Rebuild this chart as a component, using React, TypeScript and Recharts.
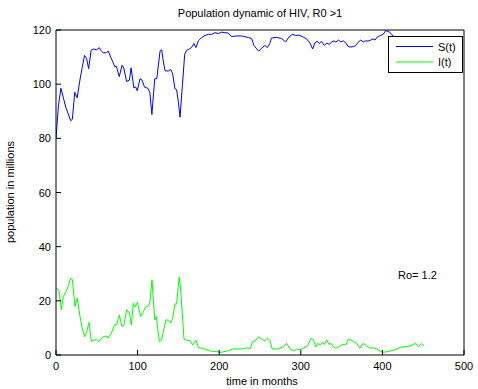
import React from 'react';
import { LineChart, Line, XAxis, YAxis } from 'recharts';

// S(t) samples, months -> millions
const sTimes = [
  0, 3, 6, 9, 12, 15, 18, 20, 23, 26, 29, 32, 35, 37.5, 40, 43, 46, 50, 53, 55,
  58, 62, 64, 67, 70, 72, 74, 77.5, 81, 83, 86.5, 90, 92, 95.5, 97.5, 99.5, 103, 105.5, 108.5, 112.5,
  115, 117.5, 121, 123.5, 127.5, 129.5, 131, 133.5, 137.5, 140.5, 143, 145.8, 147.8, 150, 152, 155, 157.7, 160, 163.4, 166,
  169, 171.5, 174.4, 178.5, 182.6, 186.7, 190.8, 194.8, 199, 203, 207, 211, 215, 221.5, 227.6, 231.7, 235.8, 239.8, 242.6, 246,
  248.4, 252, 256, 259, 262, 264, 270, 276.6, 281.5, 285.5, 289.6, 293.7, 297.8, 303, 307, 311.3, 314.5, 317.3, 320, 322.5,
  325.4, 328.8, 331.7, 335, 337.8, 340.7, 343, 346, 349, 352, 355.3, 358, 361.4, 364.6, 367, 370.3, 373.6, 376.4, 379.3, 382.5,
  385.8, 388.6, 391, 394, 398, 401, 404, 409, 413, 418, 424, 430, 435, 440, 445, 453
];
const sValues = [
  80, 92, 98.5, 95, 91.5, 89, 86.5, 87, 97, 95, 101, 106, 110.6, 109.5, 105.7, 112.5, 113, 112.7, 113.5, 112.5,
  111.5, 111.7, 112.2, 110, 108, 106.5, 106.6, 102.8, 107, 106, 101, 101.5, 106, 98.6, 99, 97.6, 102, 101.5, 98.9, 98.5,
  97, 88.8, 102, 102, 112.2, 112.7, 109.5, 105, 104.8, 105.5, 103.8, 98.3, 98, 93.3, 87.8, 100, 111, 112.5, 113, 113.5,
  115, 113.5, 116, 117.2, 118, 118.4, 118.4, 119, 118.7, 119.2, 119, 118.9, 117.6, 117.8, 117.8, 117.5, 117.2, 116.8, 114.3, 113,
  112.2, 113.3, 114.3, 113.5, 115, 117, 117.3, 116.8, 115.6, 117.4, 118.4, 118, 118.1, 117.4, 116.7, 115.2, 113, 115.2, 115.9, 115,
  115.8, 114.3, 115.2, 114.7, 115.6, 116, 115.5, 116.3, 115.6, 116, 115.2, 113.9, 113.7, 113.9, 114.2, 115.5, 116.3, 115.6, 116, 115.9,
  116.3, 116.7, 116.3, 117.5, 118, 118.4, 119.8, 119.2, 117.8, 116.8, 116.4, 116.8, 116.2, 116.6, 116.1, 116.4
];

// I(t) samples
const iTimes = [
  0, 3.7, 6.5, 9, 11.8, 14.7, 18, 20, 23.3, 26, 29.4, 32, 35, 37.5, 40.4, 43.3, 46.5, 49.7, 52.7, 55,
  58, 62, 63.7, 67.8, 72, 74.3, 77.6, 80.9, 83.3, 86.6, 89.9, 92.3, 94.8, 96.8, 99.7, 103.8, 107, 110, 113.3, 115.2,
  117.6, 121, 122.9, 126.6, 129.5, 131.5, 134.8, 137.6, 140.5, 143, 145.8, 147.8, 151, 152.6, 156.9, 160, 164.2, 167.5, 171.5, 174.4,
  178.5, 182.6, 187.9, 192.8, 196.9, 201, 205, 209, 213, 217.3, 223.4, 229.5, 233.6, 237.7, 241, 245, 248.4, 252, 256, 259,
  262, 265, 272.3, 278, 282.7, 286.8, 291, 295, 299, 303, 308.3, 312.5, 315.4, 318.3, 320.7, 323.6, 326.4, 328.8, 331.7, 334.6,
  337, 339.8, 342.7, 346, 351, 355.3, 358.2, 361.4, 365.5, 368.4, 372.5, 376.6, 380.7, 384.8, 388.9, 393, 397.1, 401.1, 405.2, 409.3,
  415.4, 419.5, 423.6, 429.7, 433.8, 437.9, 440.8, 444, 448, 451
];
const iValues = [
  24.7, 23.8, 16.7, 21.6, 23, 25.3, 28.4, 27.8, 17.9, 21, 14.2, 10, 6.8, 8.6, 12, 4.9, 5.5, 5.8, 4.9, 6,
  6.8, 7, 6.2, 8, 11.3, 11.1, 14.8, 10.5, 11.1, 16.7, 15.6, 11.1, 19.1, 17.7, 19.4, 14.2, 16, 17.9, 18.1, 19.7,
  27.8, 13, 14.2, 4.9, 5.5, 8.6, 13, 12.8, 11.8, 13.6, 18.9, 18.8, 28.8, 24.7, 5.8, 5.5, 5.3, 3.7, 5.5, 2.8,
  2.5, 2.2, 1.6, 1.2, 1.4, 0.9, 1.2, 1.4, 1.8, 2.3, 2.2, 2.3, 2.7, 2.3, 4.9, 5.5, 6.8, 5.8, 5.3, 6.2,
  5.5, 2.2, 2.2, 3, 4.3, 2.2, 1.5, 2.2, 1.9, 2.5, 3.4, 6.2, 5.6, 3, 4.3, 3.7, 4.7, 3.9, 5.6, 3.9,
  4.3, 3, 2.5, 3, 3.9, 3.7, 5.9, 5.6, 4.7, 4.3, 2.5, 4.3, 3.4, 2.5, 2.7, 2.2, 1.5, 1, 1.2, 1.5,
  1.9, 2.5, 3, 3, 3.4, 3.9, 4.3, 3, 4.2, 3.4
];

const xTicks = [0, 100, 200, 300, 400, 500];
const yTicks = [0, 20, 40, 60, 80, 100, 120];

const sData = sTimes.map((t, i) => ({ t, v: sValues[i] }));
const iData = iTimes.map((t, i) => ({ t, v: iValues[i] }));

const FONT = '"Liberation Sans", Arial, Helvetica, sans-serif';

// ticks point inward like matlab
const BottomTick = (props: any) => {
  const { x, y, payload } = props;
  return (
    <g>
      <line x1={x} y1={y} x2={x} y2={y - 5} stroke="#000" />
      <text x={x} y={y + 15} textAnchor="middle" fontSize={11} fontFamily={FONT} fill="#000">
        {payload.value}
      </text>
    </g>
  );
};
const TopTick = (props: any) => {
  const { x, y } = props;
  return <line x1={x} y1={y} x2={x} y2={y + 5} stroke="#000" />;
};
const LeftTick = (props: any) => {
  const { x, y, payload } = props;
  return (
    <g>
      <line x1={x} y1={y} x2={x + 5} y2={y} stroke="#000" />
      <text x={x - 5} y={y + 4} textAnchor="end" fontSize={11} fontFamily={FONT} fill="#000">
        {payload.value}
      </text>
    </g>
  );
};
const RightTick = (props: any) => {
  const { x, y } = props;
  return <line x1={x} y1={y} x2={x - 5} y2={y} stroke="#000" />;
};

const txt: React.CSSProperties = {
  position: 'absolute',
  fontFamily: FONT,
  fontSize: 11,
  lineHeight: '14px',
  color: '#000',
  whiteSpace: 'nowrap',
};

const App: React.FC = () => {
  return (
    <div style={{ position: 'absolute', left: 0, top: 0, width: 478, height: 389, background: '#fff' }}>
      <LineChart width={478} height={389} margin={{ top: 0, right: 0, bottom: 0, left: 0 }}>
        <XAxis
          dataKey="t"
          type="number"
          domain={[0, 500]}
          ticks={xTicks}
          height={34}
          tickSize={0}
          tickMargin={0}
          tickLine={false}
          tick={BottomTick}
          axisLine={{ stroke: '#000' }}
          allowDataOverflow
        />
        <XAxis
          xAxisId="top"
          orientation="top"
          dataKey="t"
          type="number"
          domain={[0, 500]}
          ticks={xTicks}
          height={30}
          tickSize={0}
          tickMargin={0}
          tickLine={false}
          tick={TopTick}
          axisLine={{ stroke: '#000' }}
        />
        <YAxis
          type="number"
          domain={[0, 120]}
          ticks={yTicks}
          width={56}
          tickSize={0}
          tickMargin={0}
          tickLine={false}
          tick={LeftTick}
          axisLine={{ stroke: '#000' }}
          allowDataOverflow
        />
        <YAxis
          yAxisId="right"
          orientation="right"
          type="number"
          domain={[0, 120]}
          ticks={yTicks}
          width={14}
          tickSize={0}
          tickMargin={0}
          tickLine={false}
          tick={RightTick}
          axisLine={{ stroke: '#000' }}
        />
        <Line data={sData} dataKey="v" name="S(t)" stroke="#0000ff" strokeWidth={1} dot={false} isAnimationActive={false} />
        <Line data={iData} dataKey="v" name="I(t)" stroke="#00ff00" strokeWidth={1} dot={false} isAnimationActive={false} />
      </LineChart>

      <div style={{ ...txt, left: 0, width: 520, top: 6, textAlign: 'center' }}>Population dynamic of HIV, R0 &gt;1</div>
      <div style={{ ...txt, left: 0, width: 524, top: 374, textAlign: 'center' }}>time in months</div>
      <div
        style={{
          ...txt,
          left: 10 - 100,
          top: 192 - 7,
          width: 200,
          textAlign: 'center',
          transform: 'rotate(-90deg)',
        }}
      >
        population in millions
      </div>
      <div style={{ ...txt, left: 398, top: 268 }}>Ro= 1.2</div>

      <svg style={{ position: 'absolute', left: 388, top: 36 }} width={75} height={37}>
        <rect x={0.5} y={0.5} width={74} height={36} fill="#fff" stroke="#000" />
        <line x1={8} y1={10.5} x2={45} y2={10.5} stroke="#0000ff" />
        <text x={50} y={14.5} fontSize={11} fontFamily={FONT} fill="#000">S(t)</text>
        <line x1={8} y1={26} x2={45} y2={26} stroke="#00ff00" />
        <text x={50} y={30} fontSize={11} fontFamily={FONT} fill="#000">I(t)</text>
      </svg>
    </div>
  );
};

export default App;
